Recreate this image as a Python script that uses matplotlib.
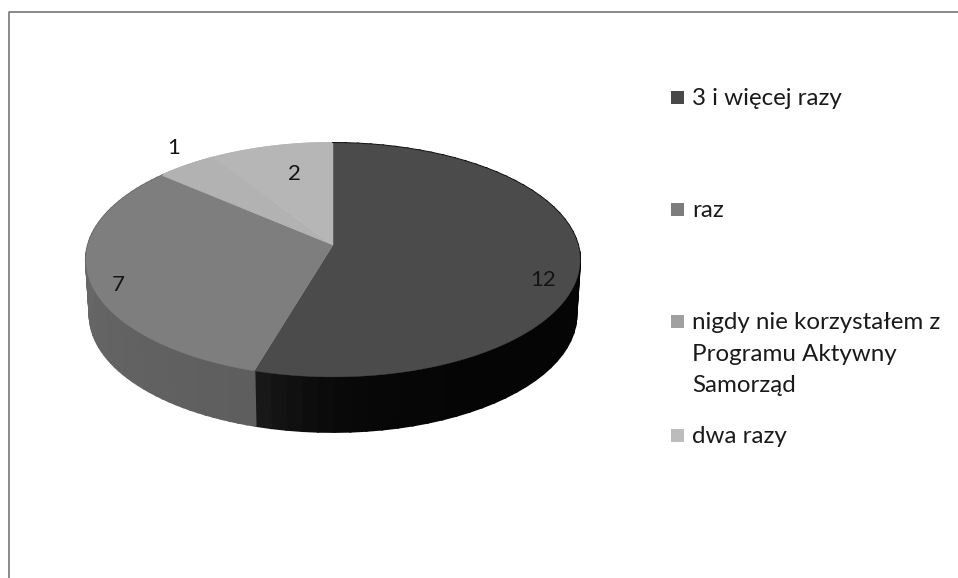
import numpy as np
import matplotlib
matplotlib.use('Agg')
import matplotlib.pyplot as plt
from matplotlib.colors import to_rgb
from matplotlib.patches import Rectangle

plt.rcParams['font.family'] = ['Lato', 'DejaVu Sans']

# Данные диаграммы
categories = ['3 i więcej razy', 'raz', 'nigdy nie korzystałem z\nProgramu Aktywny\nSamorząd', 'dwa razy']
values = [12, 7, 1, 2]
top_colors = ['#4b4b4b', '#7e7e7e', '#b2b2b2', '#b6b6b6']
# цвет стенки в начале и в конце сектора
wall_colors = [('#050505', '#181818'), ('#5e5e5e', '#6c6c6c'), ('#b2b2b2', '#b2b2b2'), ('#b6b6b6', '#b6b6b6')]
legend_colors = ['#484848', '#7c7c7c', '#a0a0a0', '#bcbcbc']

# Геометрия в пикселях картинки
CX, CY = 333, 245
RX, RY = 245, 115
PERSP = 0.128
DEPTH = 55


# Проекция диска с перспективой: угол отсчитывается от верха по часовой стрелке
def rim(theta):
    u, v = np.sin(theta), np.cos(theta)
    d = 1 + PERSP * v
    return CX + RX * u / d, CY - RY * v / d


fig = plt.figure(figsize=(9.58, 5.78), dpi=100)
ax = fig.add_axes([0, 0, 1, 1])
ax.set_xlim(0, 958)
ax.set_ylim(578, 0)
ax.axis('off')

edges = np.radians(np.concatenate([[0], np.cumsum(values)]) / sum(values) * 360)

# Боковая стенка, полосками для плавного перехода цвета
for i in range(len(values)):
    t = np.linspace(edges[i], edges[i + 1], 60)
    c0 = np.array(to_rgb(wall_colors[i][0]))
    c1 = np.array(to_rgb(wall_colors[i][1]))
    for j in range(len(t) - 1):
        x, y = rim(t[j:j + 2])
        k = j / (len(t) - 2)
        color = c0 + (c1 - c0) * (k ** 16 if i == 0 else k)
        xb = CX + (x - CX) * 0.985
        ax.fill([x[0], x[1], xb[1], xb[0]], [y[0], y[1], y[1] + DEPTH, y[0] + DEPTH],
                facecolor=color, edgecolor=color, lw=1.5, zorder=2 if i < 2 else 1)

# Верхняя грань
for i in range(len(values)):
    t = np.linspace(edges[i], edges[i + 1], 120)
    x, y = rim(t)
    ax.fill(np.r_[CX, x], np.r_[CY, y], color=top_colors[i], lw=0.3, zorder=3)

# Подписи значений
label_x = [543, 118, 174, 294]
label_y = [280, 285, 148, 174]
for val, lx, ly in zip(values, label_x, label_y):
    ax.text(lx, ly, str(val), fontsize=16, ha='center', va='center', color='#141414', zorder=5)

# Легенда
legend_y = [98, 210, 322, 436]
for cat, color, ly in zip(categories, legend_colors, legend_y):
    ax.add_patch(Rectangle((671, ly - 7), 13, 13, color=color, lw=0))
    ax.text(692, ly - 10, cat, fontsize=17.4, ha='left', va='top', color='#1a1a1a', linespacing=1.62)

# Рамка скана
ax.plot([9, 9, 958], [578, 12, 12], color='#777777', lw=1.2, zorder=0)

fig.savefig('out.png', dpi=100)
